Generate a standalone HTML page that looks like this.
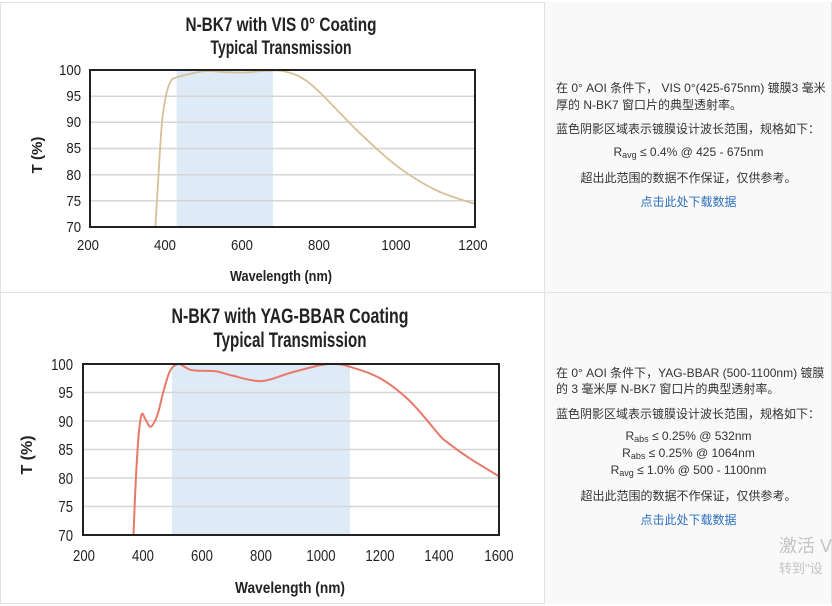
<!DOCTYPE html>
<html><head><meta charset="utf-8"><style>
body{margin:0;width:832px;height:606px;overflow:hidden;background:#fff;font-family:"Liberation Sans","Noto Sans CJK SC",sans-serif;}
.p{position:absolute;font-size:12px;color:#333;white-space:nowrap;}
.c{text-align:center;left:545px;width:287px;}
sub{font-size:9px;vertical-align:-2px;}
.lk{color:#2a6fc0;}
</style></head><body>
<div style="position:absolute;left:0;top:2px;width:831px;height:602px;border:1px solid #e2e2e2;box-sizing:border-box"></div>
<div style="position:absolute;left:544px;top:2px;width:288px;height:602px;background:#f9f9f9;border-left:1px solid #e2e2e2;border-right:1px solid #e2e2e2;box-sizing:border-box"></div>
<div style="position:absolute;left:0;top:292px;width:832px;height:1px;background:#e2e2e2"></div>
<svg width="832" height="606" style="position:absolute;left:0;top:0" font-family="'Liberation Sans Narrow','Liberation Sans',sans-serif" font-weight="bold">
<g id="c1">
<rect x="176.6" y="70" width="96.3" height="157" fill="#deebf6"/>
<g stroke="#d6d6d6" stroke-width="1.5"><line x1="90" x2="475" y1="96.2" y2="96.2"/><line x1="90" x2="475" y1="122.3" y2="122.3"/><line x1="90" x2="475" y1="148.5" y2="148.5"/><line x1="90" x2="475" y1="174.7" y2="174.7"/><line x1="90" x2="475" y1="200.8" y2="200.8"/></g>
<path id="p1" fill="none" stroke="#d8bf96" stroke-width="1.8"/>
<rect x="90" y="70" width="385" height="157" fill="none" stroke="#222" stroke-width="2"/>
<text x="281" y="31" text-anchor="middle" font-size="19" textLength="191" lengthAdjust="spacingAndGlyphs" fill="#222">N-BK7 with VIS 0° Coating</text>
<text x="281" y="54" text-anchor="middle" font-size="19" textLength="141" lengthAdjust="spacingAndGlyphs" fill="#222">Typical Transmission</text>
<g class="tk" font-size="15" font-weight="normal" fill="#222" text-anchor="end">
<text x="81" y="75">100</text><text x="81" y="101">95</text><text x="81" y="127">90</text><text x="81" y="153">85</text><text x="81" y="180">80</text><text x="81" y="206">75</text><text x="81" y="232">70</text></g>
<g class="tk" font-size="15" font-weight="normal" fill="#222" text-anchor="middle">
<text x="88" y="250">200</text><text x="165" y="250">400</text><text x="242" y="250">600</text><text x="319" y="250">800</text><text x="396" y="250">1000</text><text x="473" y="250">1200</text></g>
<text x="281" y="281" text-anchor="middle" font-size="15" textLength="102" lengthAdjust="spacingAndGlyphs" fill="#222">Wavelength (nm)</text>
<text transform="translate(42,155) rotate(-90)" text-anchor="middle" font-size="15" fill="#222">T (%)</text>
</g>
<g id="c2">
<rect x="172" y="364" width="178" height="171" fill="#deebf6"/>
<g stroke="#d6d6d6" stroke-width="1.5"><line x1="83" x2="499" y1="392.5" y2="392.5"/><line x1="83" x2="499" y1="421" y2="421"/><line x1="83" x2="499" y1="449.5" y2="449.5"/><line x1="83" x2="499" y1="478" y2="478"/><line x1="83" x2="499" y1="506.5" y2="506.5"/></g>
<path id="p2" fill="none" stroke="#e8786a" stroke-width="2"/>
<rect x="83" y="364" width="416" height="171" fill="none" stroke="#222" stroke-width="2"/>
<text x="290" y="323" text-anchor="middle" font-size="21" textLength="237" lengthAdjust="spacingAndGlyphs" fill="#222">N-BK7 with YAG-BBAR Coating</text>
<text x="290" y="347" text-anchor="middle" font-size="21" textLength="153" lengthAdjust="spacingAndGlyphs" fill="#222">Typical Transmission</text>
<g class="tk" font-size="16" font-weight="normal" fill="#222" text-anchor="end">
<text x="73" y="370">100</text><text x="73" y="398">95</text><text x="73" y="427">90</text><text x="73" y="455">85</text><text x="73" y="484">80</text><text x="73" y="512">75</text><text x="73" y="541">70</text></g>
<g class="tk" font-size="16" font-weight="normal" fill="#222" text-anchor="middle">
<text x="84" y="561">200</text><text x="143" y="561">400</text><text x="202" y="561">600</text><text x="261" y="561">800</text><text x="321" y="561">1000</text><text x="380" y="561">1200</text><text x="439" y="561">1400</text><text x="499" y="561">1600</text></g>
<text x="290" y="593" text-anchor="middle" font-size="16" textLength="110" lengthAdjust="spacingAndGlyphs" fill="#222">Wavelength (nm)</text>
<text transform="translate(32,455) rotate(-90)" text-anchor="middle" font-size="16" fill="#222">T (%)</text>
</g>
</svg>
<div class="p" style="left:556px;top:79px">在 0° AOI 条件下，  VIS 0°(425-675nm) 镀膜3 毫米</div>
<div class="p" style="left:556px;top:96px">厚的 N-BK7 窗口片的典型透射率。</div>
<div class="p" style="left:556px;top:120px">蓝色阴影区域表示镀膜设计波长范围，规格如下：</div>
<div class="p c" style="top:145px">R<sub>avg</sub> ≤ 0.4% @ 425 - 675nm</div>
<div class="p c" style="top:169px">超出此范围的数据不作保证，仅供参考。</div>
<div class="p c lk" style="top:193px">点击此处下载数据</div>
<div class="p" style="left:556px;top:364px">在 0° AOI 条件下，YAG-BBAR (500-1100nm) 镀膜</div>
<div class="p" style="left:556px;top:380px">的 3 毫米厚 N-BK7 窗口片的典型透射率。</div>
<div class="p" style="left:556px;top:405px">蓝色阴影区域表示镀膜设计波长范围，规格如下：</div>
<div class="p c" style="top:429px">R<sub>abs</sub> ≤ 0.25% @ 532nm</div>
<div class="p c" style="top:446px">R<sub>abs</sub> ≤ 0.25% @ 1064nm</div>
<div class="p c" style="top:463px">R<sub>avg</sub> ≤ 1.0% @ 500 - 1100nm</div>
<div class="p c" style="top:487px">超出此范围的数据不作保证，仅供参考。</div>
<div class="p c lk" style="top:511px">点击此处下载数据</div>
<div class="p" style="left:779px;top:532px;font-size:18px;color:#c4c4c4">激活 V</div>
<div class="p" style="left:779px;top:558px;font-size:13px;color:#c4c4c4">转到"设</div>
<script>
function mk(id,pts,x0,x1,w0,w1,y0,y1){
 var P=pts.map(function(p){return [x0+(p[0]-w0)*(x1-x0)/(w1-w0), y0+(100-p[1])*(y1-y0)/30];});
 var d="M"+P[0][0].toFixed(1)+","+P[0][1].toFixed(1);
 for(var i=0;i<P.length-1;i++){
  var a=P[i-1]||P[i],b=P[i],c=P[i+1],e=P[i+2]||c;
  d+=" C"+(b[0]+(c[0]-a[0])/6).toFixed(1)+","+(b[1]+(c[1]-a[1])/6).toFixed(1)+" "+(c[0]-(e[0]-b[0])/6).toFixed(1)+","+(c[1]-(e[1]-b[1])/6).toFixed(1)+" "+c[0].toFixed(1)+","+c[1].toFixed(1);
 }
 document.getElementById(id).setAttribute("d",d);
}
mk("p1",[[370,70],[378,80],[387,90],[397,95],[410,97.9],[425,98.6],[450,99.1],[500,99.8],[550,99.6],[600,99.5],[650,99.8],[700,99.8],[750,98.5],[800,95.5],[900,88],[1000,81.5],[1100,77],[1200,74.4]],90,475,200,1200,70,227);
mk("p2",[[370,70],[378,80],[388,88],[398,91.2],[410,90.3],[428,89],[450,91],[470,95],[492,98.7],[520,100],[560,99],[600,98.8],[650,98.7],[700,98],[800,97],[900,98.5],[1000,99.8],[1050,100],[1100,99.5],[1200,97.5],[1300,93.5],[1400,87.5],[1420,86.5],[1500,83.5],[1600,80.3]],83,499,200,1600,364,535);
var ts=document.querySelectorAll(".tk text");
for(var i=0;i<ts.length;i++){var n=ts[i].textContent.length;ts[i].setAttribute("textLength",(n*7.3).toFixed(1));ts[i].setAttribute("lengthAdjust","spacingAndGlyphs");}
</script>
</body></html>
